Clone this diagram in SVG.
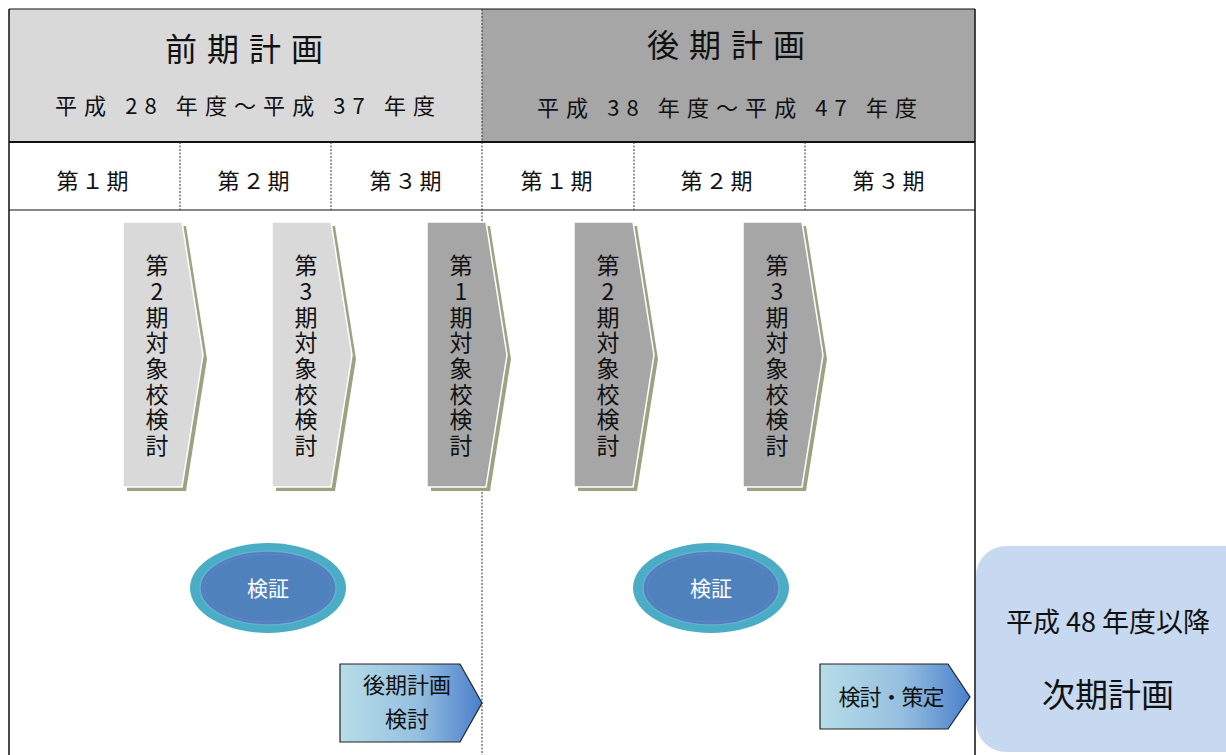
<svg xmlns="http://www.w3.org/2000/svg" width="1226" height="755" viewBox="0 0 1226 755">
<defs>
<style>
text{font-family:"Noto Sans CJK JP","Noto Sans",sans-serif;fill:#111;}
.hdr{font-size:32px;text-anchor:middle;}
.sub{font-size:22px;text-anchor:middle;}
.per{font-size:22px;text-anchor:middle;letter-spacing:3px;}
.vt{font-size:23px;text-anchor:middle;}
.ev{font-size:21px;fill:#fff;text-anchor:middle;}
.ar{font-size:22px;text-anchor:middle;}
.dot{stroke:#333;stroke-width:1;stroke-dasharray:2 1.5;fill:none;}
.chevL{fill:#d9d9d9;stroke:#fff;stroke-width:1.5;}
.chevD{fill:#a6a6a6;stroke:#fff;stroke-width:1.5;}
.shadow{fill:#9ca383;}
.pent{fill:url(#g);stroke:#222;stroke-width:1.2;}
</style>
<linearGradient id="g" x1="0" y1="0" x2="1" y2="0">
<stop offset="0" stop-color="#b7dde8"/>
<stop offset="0.55" stop-color="#95bfe0"/>
<stop offset="1" stop-color="#4a7fcc"/>
</linearGradient>
</defs>

<g id="table">
<rect x="9" y="9" width="473" height="133" fill="#d9d9d9"/>
<rect x="482" y="9" width="493" height="133" fill="#a6a6a6"/>
<rect x="9" y="142" width="966" height="620" fill="#fff"/>
<line x1="9" y1="9" x2="975" y2="9" stroke="#111" stroke-width="1.2"/>
<line x1="9" y1="9" x2="9" y2="755" stroke="#111" stroke-width="1.5"/>
<line x1="975" y1="9" x2="975" y2="755" stroke="#111" stroke-width="1.5"/>
<line x1="9" y1="142" x2="975" y2="142" stroke="#111" stroke-width="2.2"/>
<line x1="9" y1="210" x2="975" y2="210" stroke="#111" stroke-width="1.2"/>
<line class="dot" x1="482" y1="9" x2="482" y2="755"/>
<line class="dot" x1="180" y1="142" x2="180" y2="210"/>
<line class="dot" x1="331" y1="142" x2="331" y2="210"/>
<line class="dot" x1="634" y1="142" x2="634" y2="210"/>
<line class="dot" x1="805" y1="142" x2="805" y2="210"/>
</g>

<g id="header-zenki">
<text class="hdr" x="249" y="61" letter-spacing="10">前期計画</text>
<text class="sub" x="245" y="114" textLength="380" lengthAdjust="spacing">平成 28 年度～平成 37 年度</text>
</g>
<g id="header-kouki">
<text class="hdr" x="731" y="57" letter-spacing="10">後期計画</text>
<text class="sub" x="727" y="116" textLength="380" lengthAdjust="spacing">平成 38 年度～平成 47 年度</text>
</g>

<g id="periods">
<text class="per" x="94" y="189">第１期</text>
<text class="per" x="255" y="189">第２期</text>
<text class="per" x="407" y="189">第３期</text>
<text class="per" x="558" y="189">第１期</text>
<text class="per" x="718" y="189">第２期</text>
<text class="per" x="890" y="189">第３期</text>
</g>

<g id="chev1">
<path class="shadow" d="M127,226 H186 L207,359 L186,491 H127 Z"/>
<path class="chevL" d="M123,222 H182 L203,355 L182,487 H123 Z"/>
<text class="vt"><tspan x="157" y="274">第</tspan><tspan x="157" y="300">2</tspan><tspan x="157" y="326">期</tspan><tspan x="157" y="351">対</tspan><tspan x="157" y="377">象</tspan><tspan x="157" y="403">校</tspan><tspan x="157" y="428">検</tspan><tspan x="157" y="454">討</tspan></text>
</g>
<g id="chev2">
<path class="shadow" d="M276,226 H335 L356,359 L335,491 H276 Z"/>
<path class="chevL" d="M272,222 H331 L352,355 L331,487 H272 Z"/>
<text class="vt"><tspan x="306" y="274">第</tspan><tspan x="306" y="300">3</tspan><tspan x="306" y="326">期</tspan><tspan x="306" y="351">対</tspan><tspan x="306" y="377">象</tspan><tspan x="306" y="403">校</tspan><tspan x="306" y="428">検</tspan><tspan x="306" y="454">討</tspan></text>
</g>
<g id="chev3">
<path class="shadow" d="M431,226 H490 L511,359 L490,491 H431 Z"/>
<path class="chevD" d="M427,222 H486 L507,355 L486,487 H427 Z"/>
<text class="vt"><tspan x="461" y="274">第</tspan><tspan x="461" y="300">1</tspan><tspan x="461" y="326">期</tspan><tspan x="461" y="351">対</tspan><tspan x="461" y="377">象</tspan><tspan x="461" y="403">校</tspan><tspan x="461" y="428">検</tspan><tspan x="461" y="454">討</tspan></text>
</g>
<g id="chev4">
<path class="shadow" d="M578,226 H637 L658,359 L637,491 H578 Z"/>
<path class="chevD" d="M574,222 H633 L654,355 L633,487 H574 Z"/>
<text class="vt"><tspan x="608" y="274">第</tspan><tspan x="608" y="300">2</tspan><tspan x="608" y="326">期</tspan><tspan x="608" y="351">対</tspan><tspan x="608" y="377">象</tspan><tspan x="608" y="403">校</tspan><tspan x="608" y="428">検</tspan><tspan x="608" y="454">討</tspan></text>
</g>
<g id="chev5">
<path class="shadow" d="M747,226 H806 L827,359 L806,491 H747 Z"/>
<path class="chevD" d="M743,222 H802 L823,355 L802,487 H743 Z"/>
<text class="vt"><tspan x="777" y="274">第</tspan><tspan x="777" y="300">3</tspan><tspan x="777" y="326">期</tspan><tspan x="777" y="351">対</tspan><tspan x="777" y="377">象</tspan><tspan x="777" y="403">校</tspan><tspan x="777" y="428">検</tspan><tspan x="777" y="454">討</tspan></text>
</g>

<g id="kensho1">
<ellipse cx="268" cy="588" rx="78" ry="45" fill="#4bacc6"/>
<ellipse cx="268" cy="588" rx="68" ry="37" fill="#4f81bd" stroke="#5fb3d0" stroke-width="1.5"/>
<ellipse cx="268" cy="588" rx="64" ry="34" fill="#4f81bd" stroke="#6a7fd0" stroke-width="1"/>
<text class="ev" x="268" y="596">検証</text>
</g>
<g id="kensho2">
<ellipse cx="711" cy="588" rx="78" ry="45" fill="#4bacc6"/>
<ellipse cx="711" cy="588" rx="68" ry="37" fill="#4f81bd" stroke="#5fb3d0" stroke-width="1.5"/>
<ellipse cx="711" cy="588" rx="64" ry="34" fill="#4f81bd" stroke="#6a7fd0" stroke-width="1"/>
<text class="ev" x="711" y="596">検証</text>
</g>

<g id="kouki-kento">
<path class="pent" d="M340,664 H460 L482,703 L460,742 H340 Z"/>
<text class="ar" x="407" y="693" font-size="23">後期計画</text>
<text class="ar" x="407" y="727" font-size="23">検討</text>
</g>
<g id="kento-sakutei">
<path class="pent" d="M820,664 H948 L970,697 L948,729 H820 Z"/>
<text class="ar" x="891" y="705" letter-spacing="-1">検討・策定</text>
</g>

<g id="jiki">
<rect x="976" y="546" width="280" height="206" rx="30" fill="#c6d9f1"/>
<text x="1108" y="632" font-size="27" text-anchor="middle">平成 48 年度以降</text>
<text x="1108" y="707" font-size="33" text-anchor="middle">次期計画</text>
</g>
</svg>
